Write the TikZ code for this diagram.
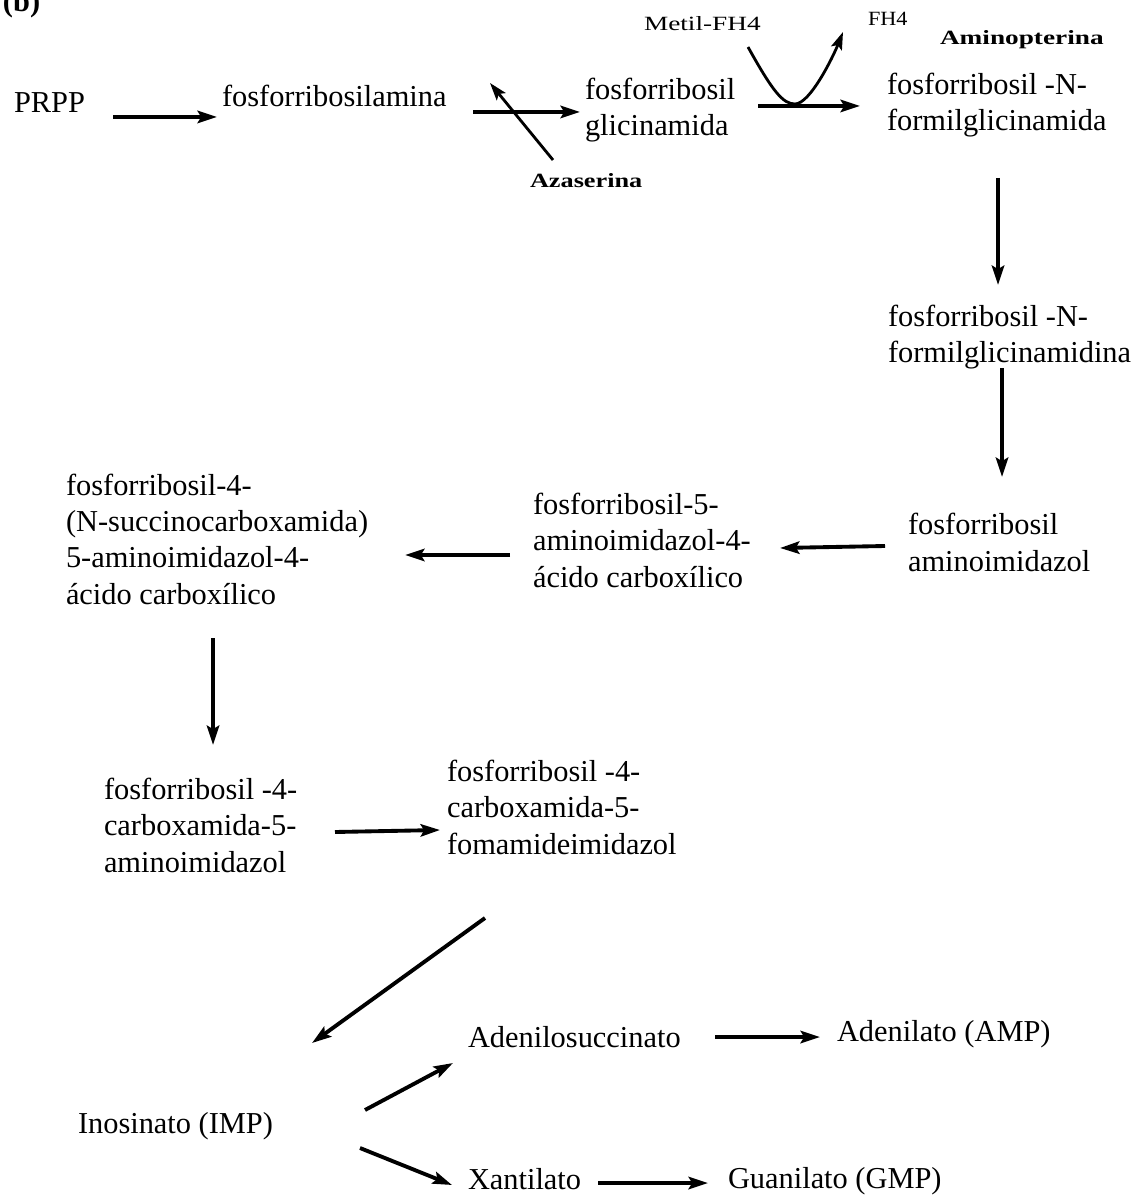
\documentclass[tikz,border=0pt]{standalone}
\usepackage{fontspec}
\setmainfont{Liberation Serif}
\usetikzlibrary{arrows.meta}
\tikzset{
  lbl/.style={inner sep=0pt, outer sep=0pt, anchor=base west, align=left,
    font=\fontsize{17.3}{20.5}\selectfont},
  small/.style={inner sep=0pt, outer sep=0pt, anchor=base west,
    font=\fontsize{11.5}{13}\selectfont},
  arr/.style={line width=2.2pt, -{Stealth[length=11pt,width=7pt,inset=2pt]}},
  thinarr/.style={line width=1.6pt, -{Stealth[length=10pt,width=6.5pt,inset=2pt]}},
}
\begin{document}
\begin{tikzpicture}[x=0.02cm,y=-0.02cm]
\fill[white] (0,0) rectangle (1138,1195);
\useasboundingbox (0,0) rectangle (1138,1195);

% nodes (base west = baseline of the last line)
\node[lbl,font=\fontsize{17.3}{20.5}\selectfont\bfseries] (b) at (3,12) {(b)};
\node[lbl] (prpp) at (14,113) {PRPP};
\node[lbl] (fa) at (222,107) {fosforribosilamina};
\node[lbl] (fg) at (585,136) {fosforribosil\\glicinamida};
\node[lbl] (ffg) at (887,131) {fosforribosil -N-\\formilglicinamida};
\node[lbl] (ffgd) at (888,363) {fosforribosil -N-\\formilglicinamidina};
\node[lbl] (fai) at (908,571) {fosforribosil\\aminoimidazol};
\node[lbl] (fac) at (533,587) {fosforribosil-5-\\aminoimidazol-4-\\ácido carboxílico};
\node[lbl] (fsc) at (66,604) {fosforribosil-4-\\(N-succinocarboxamida)\\5-aminoimidazol-4-\\ácido carboxílico};
\node[lbl] (fca) at (104,872) {fosforribosil -4-\\carboxamida-5-\\aminoimidazol};
\node[lbl] (fcf) at (447,854) {fosforribosil -4-\\carboxamida-5-\\fomamideimidazol};
\node[lbl] (imp) at (78,1133) {Inosinato (IMP)};
\node[lbl] (ads) at (468,1047) {Adenilosuccinato};
\node[lbl] (amp) at (837,1041) {Adenilato (AMP)};
\node[lbl] (xan) at (468,1189) {Xantilato};
\node[lbl] (gmp) at (728,1188) {Guanilato (GMP)};

\node[small] (metil) at (644,31) {\scalebox{1.35}[1]{Metil-FH4}};
\node[small] (fh4) at (868,26) {\scalebox{1.1}[1]{FH4}};
\node[small] (amino) at (940,45) {\scalebox{1.35}[1]{\bfseries Aminopterina}};
\node[small] (aza) at (530,188) {\scalebox{1.3}[1]{\bfseries Azaserina}};
\coordinate (azatip) at (490,83);

% connectors
\draw[arr] ([shift={(99,4)}]prpp.base west) -- ([shift={(-5,10)}]fa.base west);
\draw[arr] ([shift={(251,5)}]fa.base west) -- ([shift={(-5,-24)}]fg.base west);
\draw[thinarr] ([shift={(23,-28)}]aza.base west) -- (azatip);
\draw[arr] ([shift={(173,-30)}]fg.base west) -- ([shift={(-27,-25)}]ffg.base west);
\draw[thinarr] ([shift={(104,16)}]metil.base west)
   .. controls +(25,45) and +(-12,0) .. ([shift={(-73,78)}]fh4.base west)
   .. controls +(15,0) and +(-10,25) .. ([shift={(-25,6)}]fh4.base west);
\draw[arr] ([shift={(111,47)}]ffg.base west) -- ([shift={(110,-78)}]ffgd.base west);
\draw[arr] ([shift={(114,5)}]ffgd.base west) -- ([shift={(94,-94)}]fai.base west);
\draw[arr] ([shift={(-23,-25)}]fai.base west) -- ([shift={(247,-39)}]fac.base west);
\draw[arr] ([shift={(-23,-32)}]fac.base west) -- ([shift={(339,-49)}]fsc.base west);
\draw[arr] ([shift={(147,34)}]fsc.base west) -- ([shift={(109,-127)}]fca.base west);
\draw[arr] ([shift={(231,-40)}]fca.base west) -- ([shift={(-7,-24)}]fcf.base west);
\draw[arr] ([shift={(38,64)}]fcf.base west) -- ([shift={(234,-90)}]imp.base west);
\draw[arr] ([shift={(287,-23)}]imp.base west) -- ([shift={(-15,16)}]ads.base west);
\draw[arr] ([shift={(282,15)}]imp.base west) -- ([shift={(-16,-4)}]xan.base west);
\draw[arr] ([shift={(247,-10)}]ads.base west) -- ([shift={(-17,-4)}]amp.base west);
\draw[arr] ([shift={(130,-6)}]xan.base west) -- ([shift={(-20,-5)}]gmp.base west);
\end{tikzpicture}
\end{document}
